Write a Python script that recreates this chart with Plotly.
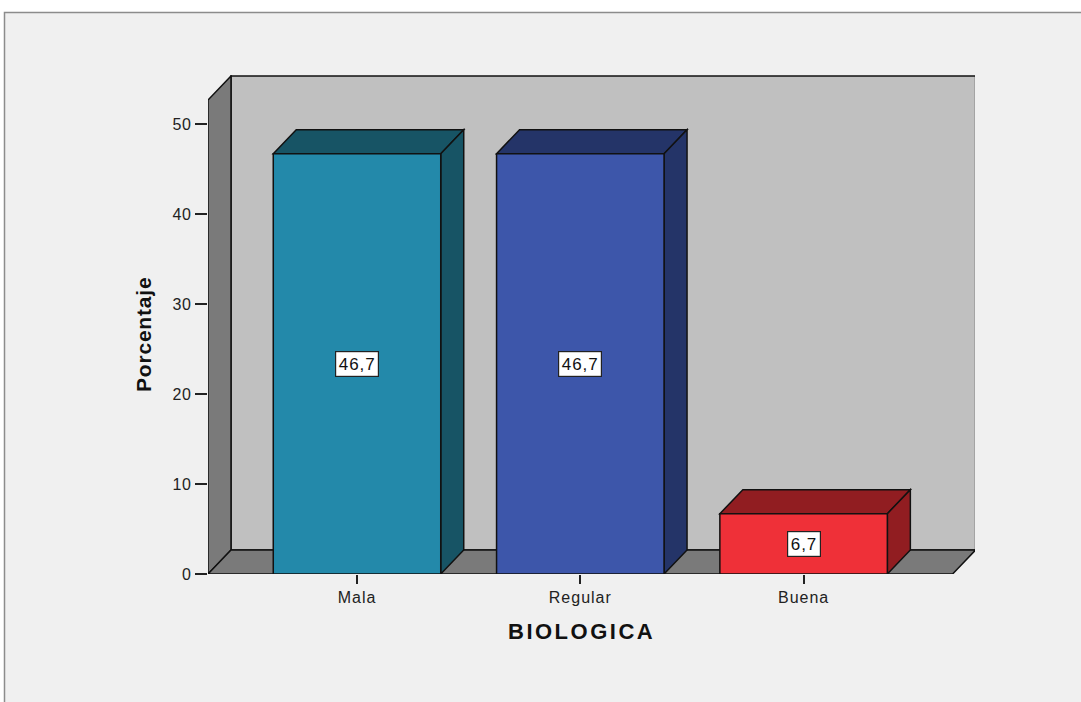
import plotly.graph_objects as go

# Porcentaje por categoría de la dimensión BIOLOGICA
categorias = ["Mala", "Regular", "Buena"]
porcentajes = [46.7, 46.7, 6.7]
etiquetas = ["46,7", "46,7", "6,7"]
colores_frente = ["#2389AA", "#3D56AA", "#EF3038"]
colores_sombra = ["#175465", "#243468", "#911D21"]
ticks_y = [0, 10, 20, 30, 40, 50]

# Geometry of the pseudo-3D box (data units)
W, H = 1081, 702
ML, MR, MT, MB = 208, 106, 75, 128
PX_PER_CAT = 223.3
PX_PER_PCT = 9.0
x_left = -149 / PX_PER_CAT
x_right = len(categorias) - 1 + 149 / PX_PER_CAT
dx = 23 / PX_PER_CAT
dy = 24 / PX_PER_PCT
y_top = 52.67
bar_w = 0.75

plot_w = W - ML - MR
plot_h = H - MT - MB
x_range = [x_left, x_left + plot_w / PX_PER_CAT]
y_range = [0, plot_h / PX_PER_PCT]

FONT = "Liberation Sans, Arial, sans-serif"
EDGE = dict(color="#111111", width=1.5)


def spaced(text, px):
    return f'<span style="letter-spacing:{px}px">{text}</span>'


def poly(points, fill, layer="below"):
    path = "M " + " L ".join(f"{x},{y}" for x, y in points) + " Z"
    return dict(type="path", path=path, xref="x", yref="y",
                fillcolor=fill, line=EDGE, layer=layer)


shapes = []
# outer chart frame
shapes.append(dict(type="rect", xref="paper", yref="paper",
                   x0=(4.5 - ML) / plot_w, x1=1.4,
                   y0=-0.5, y1=(H - MB - 12.5) / plot_h,
                   fillcolor="#F0F0F0", line=dict(color="#8C8C8C", width=1.5),
                   layer="below"))
# back wall
shapes.append(poly([(x_left + dx, dy), (x_right + dx, dy),
                    (x_right + dx, y_top + dy), (x_left + dx, y_top + dy)], "#C0C0C0"))
# left side wall
shapes.append(poly([(x_left, 0), (x_left, y_top),
                    (x_left + dx, y_top + dy), (x_left + dx, dy)], "#7A7A7A"))
# floor
shapes.append(poly([(x_left, 0), (x_right, 0),
                    (x_right + dx, dy), (x_left + dx, dy)], "#7A7A7A"))

# top and side faces of each bar
for i, v in enumerate(porcentajes):
    x0, x1 = i - bar_w / 2, i + bar_w / 2
    shapes.append(poly([(x0, v), (x1, v), (x1 + dx, v + dy), (x0 + dx, v + dy)],
                       colores_sombra[i]))
    shapes.append(poly([(x1, 0), (x1, v), (x1 + dx, v + dy), (x1 + dx, dy)],
                       colores_sombra[i]))

fig = go.Figure()
fig.add_trace(go.Bar(
    x=list(range(len(categorias))), y=porcentajes, width=bar_w,
    marker=dict(color=colores_frente, line=dict(color="#111111", width=1.5)),
    hoverinfo="skip", showlegend=False,
))

annotations = []
for i, v in enumerate(porcentajes):
    annotations.append(dict(x=i, y=v / 2, xref="x", yref="y",
                            text=spaced(etiquetas[i], 1.0),
                            showarrow=False, bgcolor="white", bordercolor="#222222",
                            borderwidth=1.2, borderpad=2.5,
                            font=dict(family=FONT, size=17, color="#111111")))

annotations.append(dict(x=(143 - ML) / plot_w, y=(H - MB - 335) / plot_h,
                        xref="paper", yref="paper", xanchor="center", yanchor="middle",
                        text="<b>" + spaced("Porcentaje", 0.8) + "</b>",
                        textangle=-90, showarrow=False,
                        font=dict(family=FONT, size=21, color="#111111")))
annotations.append(dict(x=(581 - ML) / plot_w, y=(H - MB - 631) / plot_h,
                        xref="paper", yref="paper", xanchor="center", yanchor="middle",
                        text="<b>" + spaced("BIOLOGICA", 2.5) + "</b>",
                        showarrow=False,
                        font=dict(family=FONT, size=22, color="#111111")))

fig.update_layout(
    width=W, height=H,
    margin=dict(l=ML, r=MR, t=MT, b=MB),
    paper_bgcolor="white", plot_bgcolor="rgba(0,0,0,0)",
    shapes=shapes, annotations=annotations,
    xaxis=dict(range=x_range, tickvals=list(range(len(categorias))),
               ticktext=[spaced(c, 1.0) for c in categorias],
               ticks="outside", ticklen=9, tickwidth=2, tickcolor="#222222",
               showgrid=False, zeroline=False, showline=False, fixedrange=True,
               tickfont=dict(family=FONT, size=16, color="#222222")),
    yaxis=dict(range=y_range, tickvals=ticks_y,
               ticktext=[spaced(str(t), 0.8) for t in ticks_y],
               ticks="outside", ticklen=12,
               tickwidth=2, tickcolor="#222222",
               showgrid=False, zeroline=False, showline=False, fixedrange=True,
               tickfont=dict(family=FONT, size=16, color="#222222")),
)

fig.write_html("out.html")
